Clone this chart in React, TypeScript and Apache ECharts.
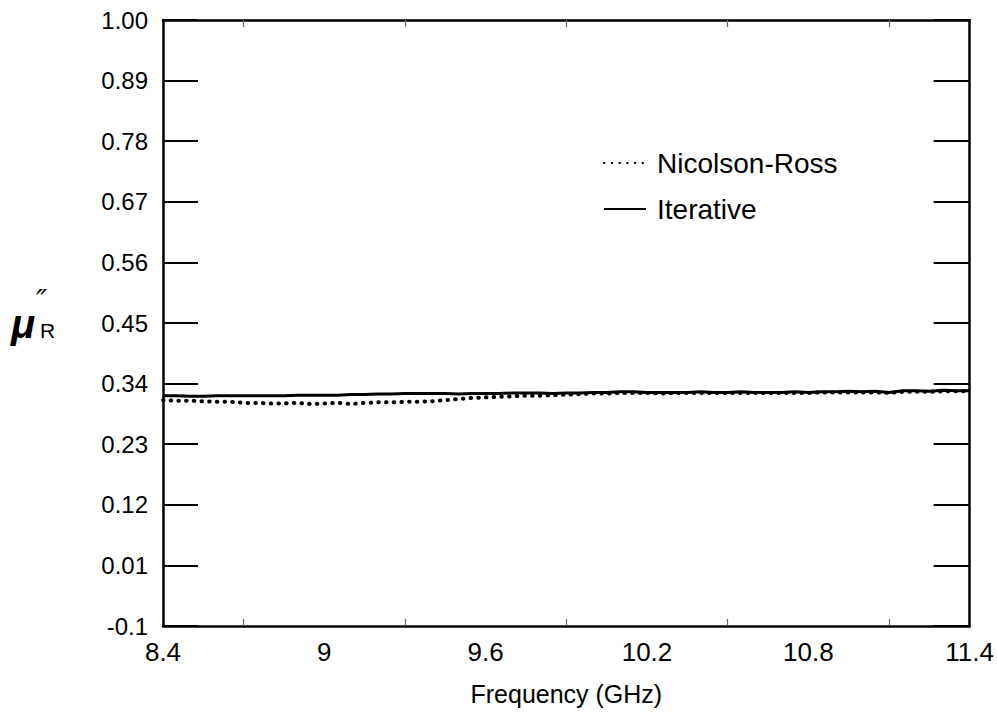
import React, { useEffect, useRef } from "react";
import * as echarts from "echarts";

const freq = [
  8.40, 8.45, 8.50, 8.55, 8.60, 8.65, 8.70, 8.75, 8.80, 8.85,
  8.90, 8.95, 9.00, 9.05, 9.10, 9.15, 9.20, 9.25, 9.30, 9.35,
  9.40, 9.45, 9.50, 9.55, 9.60, 9.65, 9.70, 9.75, 9.80, 9.85,
  9.90, 9.95, 10.00, 10.05, 10.10, 10.15, 10.20, 10.25, 10.30, 10.35,
  10.40, 10.45, 10.50, 10.55, 10.60, 10.65, 10.70, 10.75, 10.80, 10.85,
  10.90, 10.95, 11.00, 11.05, 11.10, 11.15, 11.20, 11.25, 11.30, 11.35,
  11.40,
];

const iterative = [
  0.318, 0.318, 0.317, 0.317, 0.318, 0.318, 0.318, 0.318, 0.318, 0.318,
  0.319, 0.319, 0.319, 0.319, 0.320, 0.320, 0.321, 0.321, 0.322, 0.322,
  0.322, 0.322, 0.321, 0.322, 0.322, 0.322, 0.323, 0.323, 0.323, 0.322,
  0.323, 0.323, 0.324, 0.324, 0.325, 0.325, 0.324, 0.324, 0.324, 0.324,
  0.325, 0.324, 0.324, 0.325, 0.324, 0.324, 0.324, 0.325, 0.324, 0.325,
  0.325, 0.326, 0.325, 0.326, 0.324, 0.327, 0.327, 0.326, 0.328, 0.327,
  0.327,
];

const nicolsonRoss = [
  0.310, 0.309, 0.309, 0.308, 0.307, 0.307, 0.305, 0.305, 0.304, 0.304,
  0.305, 0.303, 0.304, 0.305, 0.303, 0.305, 0.306, 0.306, 0.307, 0.307,
  0.308, 0.310, 0.312, 0.314, 0.315, 0.316, 0.317, 0.318, 0.318, 0.319,
  0.320, 0.321, 0.322, 0.322, 0.323, 0.323, 0.323, 0.322, 0.323, 0.323,
  0.323, 0.323, 0.323, 0.323, 0.323, 0.323, 0.323, 0.323, 0.323, 0.324,
  0.324, 0.324, 0.324, 0.324, 0.323, 0.325, 0.325, 0.325, 0.326, 0.326,
  0.326,
];

const yTickLabels = ["-0.1", "0.01", "0.12", "0.23", "0.34", "0.45", "0.56", "0.67", "0.78", "0.89", "1.00"];

const FONT = "'Liberation Sans', Arial, Helvetica, sans-serif";

export default function App() {
  const ref = useRef<HTMLDivElement>(null);

  useEffect(() => {
    document.body.style.margin = "0";
    if (!ref.current) return;
    const chart = echarts.init(ref.current, undefined, { renderer: "svg" });

    const frameLine = { onZero: false, lineStyle: { color: "#000", width: 2.5 } };
    const faintMinor = { show: true, splitNumber: 2, length: 7, lineStyle: { color: "#666", width: 1.2 } };

    chart.setOption({
      animation: false,
      backgroundColor: "#fff",
      grid: { left: 163, right: 27, top: 20, bottom: 98, containLabel: false },
      legend: {
        data: ["Nicolson-Ross", "Iterative"],
        orient: "vertical",
        left: 598,
        top: 142,
        itemWidth: 42,
        itemHeight: 14,
        itemGap: 14,
        itemStyle: { opacity: 0 },
        textStyle: {
          fontFamily: FONT,
          fontSize: 28,
          color: "#000",
          lineHeight: 32,
          padding: [0, 0, 0, 6],
        },
      },
      xAxis: [
        {
          type: "value",
          position: "bottom",
          min: 8.4,
          max: 11.4,
          interval: 0.6,
          name: "Frequency (GHz)",
          nameLocation: "middle",
          nameGap: 55,
          nameTextStyle: { fontFamily: FONT, fontSize: 25, color: "#000" },
          axisLine: frameLine,
          axisTick: { show: false, inside: true },
          minorTick: faintMinor,
          axisLabel: { fontFamily: FONT, fontSize: 26, color: "#000", margin: 13 },
          splitLine: { show: false },
          minorSplitLine: { show: false },
        },
        {
          type: "value",
          position: "top",
          min: 8.4,
          max: 11.4,
          interval: 0.6,
          axisLine: frameLine,
          axisTick: { show: false, inside: true },
          minorTick: faintMinor,
          axisLabel: { show: false },
          splitLine: { show: false },
          minorSplitLine: { show: false },
        },
      ],
      yAxis: [
        {
          type: "value",
          min: -0.1,
          max: 1.0,
          show: false,
          splitLine: { show: false },
        },
        {
          type: "value",
          position: "left",
          min: 0,
          max: 10,
          interval: 1,
          axisLine: { show: true, ...frameLine },
          axisTick: { show: true, inside: true, length: 35, lineStyle: { color: "#000", width: 2 } },
          axisLabel: {
            fontFamily: FONT,
            fontSize: 24,
            color: "#000",
            margin: 15,
            formatter: (v: number) => yTickLabels[Math.round(v)] ?? "",
          },
          splitLine: { show: false },
        },
        {
          type: "value",
          position: "right",
          min: 0,
          max: 10,
          interval: 1,
          axisLine: { show: true, ...frameLine },
          axisTick: { show: true, inside: true, length: 36, lineStyle: { color: "#000", width: 2 } },
          axisLabel: { show: false },
          splitLine: { show: false },
        },
      ],
      series: [
        {
          name: "Nicolson-Ross",
          type: "line",
          xAxisIndex: 0,
          yAxisIndex: 0,
          symbol: "none",
          data: freq.map((f, i) => [f, nicolsonRoss[i]]),
          lineStyle: { color: "#000", width: 4, type: [0.5, 7.2], cap: "round" },
          itemStyle: { color: "#000" },
          z: 2,
        },
        {
          name: "Iterative",
          type: "line",
          xAxisIndex: 0,
          yAxisIndex: 0,
          symbol: "none",
          data: freq.map((f, i) => [f, iterative[i]]),
          lineStyle: { color: "#000", width: 3 },
          itemStyle: { color: "#000" },
          z: 3,
        },
      ],
      graphic: [
        {
          type: "text",
          x: 11,
          y: 324,
          style: {
            text: "μ",
            font: `italic bold 40px ${FONT}`,
            fill: "#000",
            textAlign: "left",
            textVerticalAlign: "middle",
          },
        },
        {
          type: "text",
          x: 36,
          y: 300,
          style: {
            text: "″",
            font: `italic 30px 'DejaVu Sans', sans-serif`,
            fill: "#000",
            textAlign: "left",
            textVerticalAlign: "middle",
          },
        },
        {
          type: "text",
          x: 40,
          y: 330,
          style: {
            text: "R",
            font: `21px ${FONT}`,
            fill: "#000",
            textAlign: "left",
            textVerticalAlign: "middle",
          },
        },
      ],
    });

    return () => chart.dispose();
  }, []);

  return <div ref={ref} style={{ width: 997, height: 724 }} />;
}
